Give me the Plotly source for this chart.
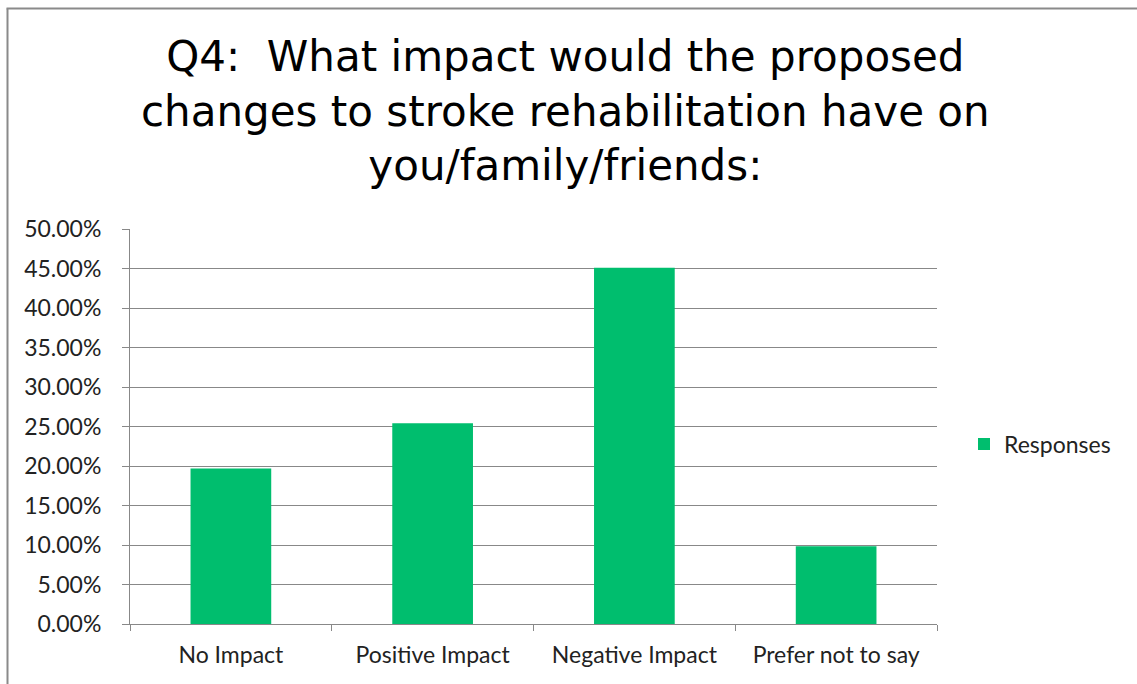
import plotly.graph_objects as go

# Survey responses, Q4 (share of respondents, %)
categories = ["No Impact", "Positive Impact", "Negative Impact", "Prefer not to say"]
responses_pct = [19.67, 25.41, 45.08, 9.84]
y_ticks = [0, 5, 10, 15, 20, 25, 30, 35, 40, 45, 50]

W, H = 1137, 684
M_L, M_R, M_T, M_B = 130, 200, 229, 60
plot_w = W - M_L - M_R
plot_h = H - M_T - M_B

def px_x(px):
    return (px - M_L) / plot_w

def px_y(py):
    return (H - M_B - py) / plot_h

GREEN = "#00BE6E"
GRID = "#888888"
tick_font = dict(family="Lato, 'Open Sans', sans-serif", size=23, color="#222222")

fig = go.Figure()
fig.add_trace(go.Bar(
    x=categories,
    y=responses_pct,
    name="Responses",
    marker=dict(color=GREEN, line=dict(width=0)),
))

fig.update_layout(
    width=W, height=H,
    margin=dict(l=M_L, r=M_R, t=M_T, b=M_B),
    paper_bgcolor="white",
    plot_bgcolor="white",
    bargap=0.6,
    showlegend=True,
    legend=dict(
        x=px_x(964), xanchor="left",
        y=px_y(444), yanchor="middle",
        font=tick_font,
        bgcolor="rgba(0,0,0,0)",
    ),
    xaxis=dict(
        showline=True, linecolor=GRID, linewidth=1,
        ticks="outside", tickson="boundaries", ticklen=6, tickcolor=GRID,
        tickfont=tick_font, ticklabelstandoff=10,
        showgrid=False,
    ),
    yaxis=dict(
        range=[0, 50],
        tickvals=y_ticks,
        ticktext=[f"{v:.2f}%" for v in y_ticks],
        showline=True, linecolor=GRID, linewidth=1,
        ticks="outside", ticklen=7, tickcolor=GRID,
        tickfont=tick_font, ticklabelstandoff=16,
        showgrid=True, gridcolor=GRID, gridwidth=1,
        zeroline=False,
    ),
)

# Chart title, three centred lines
fig.add_annotation(
    text="Q4:  What impact would the proposed<br>changes to stroke rehabilitation have on<br>you/family/friends:",
    xref="paper", yref="paper",
    x=px_x(565), xanchor="center",
    y=px_y(31), yanchor="top",
    showarrow=False, align="center", borderpad=0,
    font=dict(family="DejaVu Sans, sans-serif", size=42, color="black"),
)

# Outer chart frame (left and top edges)
fig.add_shape(type="line", xref="paper", yref="paper",
              x0=px_x(7.5), y0=px_y(H + 2), x1=px_x(7.5), y1=px_y(8.5),
              line=dict(color="#8A8A8A", width=2))
fig.add_shape(type="line", xref="paper", yref="paper",
              x0=px_x(6.5), y0=px_y(8.5), x1=px_x(W + 2), y1=px_y(8.5),
              line=dict(color="#8A8A8A", width=2))

fig.write_html("out.html")
